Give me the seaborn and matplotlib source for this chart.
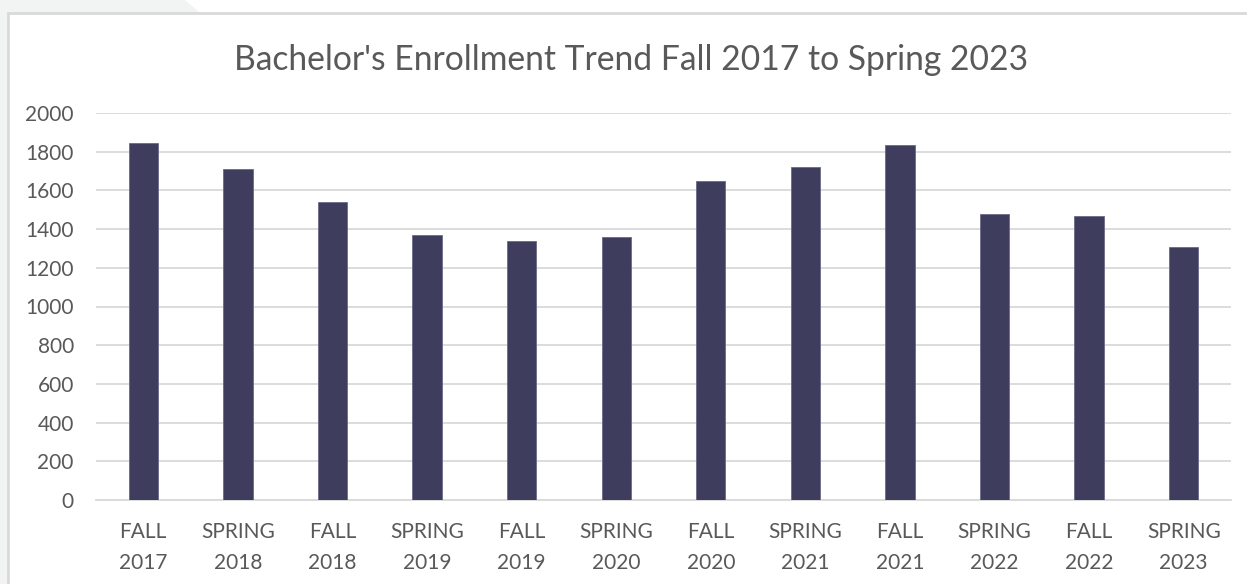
import matplotlib
matplotlib.use("Agg")
import matplotlib.pyplot as plt
import seaborn as sns
import pandas as pd
from matplotlib.patches import Rectangle, Polygon

# Data
terms = ["FALL\n2017", "SPRING\n2018", "FALL\n2018", "SPRING\n2019",
         "FALL\n2019", "SPRING\n2020", "FALL\n2020", "SPRING\n2021",
         "FALL\n2021", "SPRING\n2022", "FALL\n2022", "SPRING\n2023"]
enrollment = [1845, 1713, 1540, 1369, 1338, 1359, 1649, 1721, 1835, 1478, 1470, 1307]
y_ticks = [0, 200, 400, 600, 800, 1000, 1200, 1400, 1600, 1800, 2000]

BAR_COLOR = "#3F3D5E"
TEXT_COLOR = "#595959"
GRID_COLOR = "#D9D9D9"

df = pd.DataFrame({"term": terms, "enrollment": enrollment})

sns.set_theme(style="white")
plt.rcParams["font.family"] = ["Lato", "DejaVu Sans"]

W, H = 1247, 584
fig = plt.figure(figsize=(W / 100, H / 100), dpi=100, facecolor="white")

# page background behind the chart box
fig.patches.append(Polygon([(0, 0), (0, 1), (185 / W, 1), (200 / W, 1 - 13 / H), (200 / W, 0)],
                           closed=True, transform=fig.transFigure,
                           facecolor="#F2F3F3", edgecolor="none", zorder=0))
fig.patches.append(Rectangle((8 / W, -0.05), 1.2, 1 - 13 / H + 0.05,
                             transform=fig.transFigure, facecolor="white",
                             edgecolor="#D9D9D9", linewidth=2, zorder=1))

ax = fig.add_axes([96 / W, 1 - 500 / H, (1231 - 96) / W, (500 - 113) / H])
ax.set_facecolor("none")
ax.set_zorder(2)

sns.barplot(data=df, x="term", y="enrollment", color=BAR_COLOR, width=0.31,
            saturation=1, edgecolor="#6B6A88", linewidth=0.6, ax=ax, zorder=3)

ax.set_ylim(0, 2000)
ax.set_yticks(y_ticks)
ax.yaxis.grid(True, color=GRID_COLOR, linewidth=1.3, zorder=0)
ax.set_axisbelow(True)
for s in ["top", "right", "left"]:
    ax.spines[s].set_visible(False)
ax.spines["bottom"].set_color(GRID_COLOR)
ax.spines["bottom"].set_linewidth(1.3)

ax.set_xlabel("")
ax.set_ylabel("")
ax.tick_params(axis="both", length=0, labelsize=15, labelcolor=TEXT_COLOR)
ax.tick_params(axis="y", pad=16)
ax.tick_params(axis="x", pad=16)
for lbl in ax.get_xticklabels():
    lbl.set_linespacing(1.65)

fig.text(0.5 + 8 / W, 1 - 60 / H, "Bachelor's Enrollment Trend Fall 2017 to Spring 2023",
         ha="center", va="center", fontsize=24.2, color=TEXT_COLOR)

fig.savefig("out.png", dpi=100, facecolor=fig.get_facecolor())
